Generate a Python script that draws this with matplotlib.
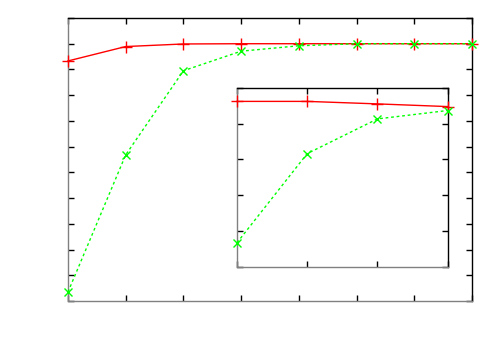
import matplotlib
matplotlib.use("Agg")
import matplotlib.pyplot as plt
import numpy as np

# main plot data
x_main = [0, 1, 2, 3, 4, 5, 6, 7]
red_main = [0.933, 0.989, 0.999, 1.0, 1.0, 1.0, 1.0, 1.0]
green_main = [0.035, 0.568, 0.895, 0.971, 0.992, 1.0, 1.0, 1.0]
x_ticks_main = [0, 1, 2, 3, 4, 5, 6, 7]
y_ticks_main = [0.0, 0.1, 0.2, 0.3, 0.4, 0.5, 0.6, 0.7, 0.8, 0.9, 1.0, 1.1]

# inset data
x_inset = [0, 1, 2, 3]
red_inset = [0.9925, 0.9925, 0.9911, 0.9896]
green_inset = [0.9134, 0.9633, 0.9827, 0.9874]
x_ticks_inset = [0, 1, 2, 3]
y_ticks_inset = [0.90, 0.92, 0.94, 0.96, 0.98, 1.00]

fig = plt.figure(figsize=(5, 3.5), dpi=100)

def style(ax):
    for s in ("left", "bottom"):
        ax.spines[s].set_color("#808080")
    for s in ("top", "right"):
        ax.spines[s].set_color("black")
    for s in ax.spines.values():
        s.set_linewidth(1.0)
    ax.tick_params(direction="in", length=4, width=1, top=True, right=True,
                   color="black", labelbottom=False, labelleft=False)

ax = fig.add_axes([0.136, 0.14, 0.808, 0.8086])
ax.plot(x_main, red_main, color="#ff0000", lw=1, marker="+", ms=8, mew=1, clip_on=False, zorder=3)
ax.plot(x_main, green_main, color="#00ff00", lw=1, ls=(0, (2, 2)), marker="x", ms=6, mew=1, clip_on=False, zorder=3)
ax.set_xlim(0, 7)
ax.set_ylim(0, 1.1)
ax.set_xticks(x_ticks_main)
ax.set_yticks(y_ticks_main)
style(ax)

axi = fig.add_axes([0.474, 0.238, 0.4214, 0.5106])
axi.plot(x_inset, red_inset, color="#ff0000", lw=1, marker="+", ms=8, mew=1, clip_on=False, zorder=3)
axi.plot(x_inset, green_inset, color="#00ff00", lw=1, ls=(0, (2, 2)), marker="x", ms=6, mew=1, clip_on=False, zorder=3)
axi.set_xlim(0, 3)
axi.set_ylim(0.90, 1.00)
axi.set_xticks(x_ticks_inset)
axi.set_yticks(y_ticks_inset)
style(axi)

fig.savefig("out.png", dpi=100)
